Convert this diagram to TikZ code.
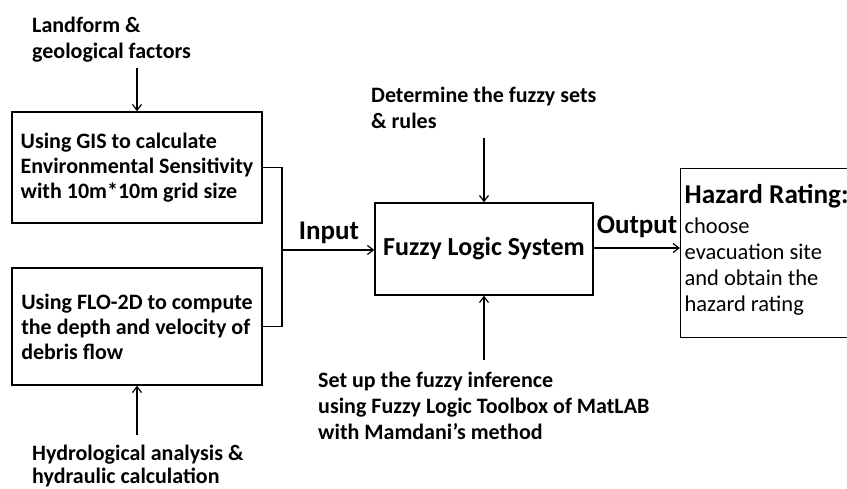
\documentclass[tikz,border=0pt]{standalone}
\usepackage{fontspec}
\setmainfont{Carlito}
\usetikzlibrary{arrows.meta}

\tikzset{
  line/.style={line width=1.3pt, draw=black},
  arr/.style={line, -{Straight Barb[length=6pt,width=9pt,line width=1.2pt]}},
  box/.style={draw=black, line width=1.3pt, rectangle, inner ysep=0pt},
  stepbox/.style={box, font=\bfseries\fontsize{22}{25}\selectfont, align=left,
    inner xsep=0pt, minimum width=250pt},
  lab/.style={font=\bfseries\fontsize{22}{26}\selectfont, align=left, inner sep=0pt, anchor=west},
  biglab/.style={font=\bfseries\fontsize{27}{30}\selectfont, inner sep=0pt},
}

\begin{document}
\begin{tikzpicture}[x=1pt,y=-1pt]
  \useasboundingbox (0,0) rectangle (847,488);
  \clip (0,0) rectangle (847,488);

  % input boxes
  \node[stepbox, minimum height=111pt] (gis) at (137,167.5)
    {Using GIS to calculate\\Environmental Sensitivity\\with 10m*10m grid size};
  \node[stepbox, minimum height=117pt] (flo) at (137,326.5)
    {Using FLO-2D to compute\\the depth and velocity of\\debris flow};

  % central fuzzy box
  \node[box, minimum width=218pt, minimum height=92pt,
        font=\bfseries\fontsize{26}{30}\selectfont] (fuzzy) at (484,249) {Fuzzy Logic System};

  % output box, running off the right edge
  \node[box, anchor=north west, minimum width=190pt, minimum height=169pt,
        text width=182pt, inner xsep=3pt, align=flush left,
        font=\fontsize{22.5}{26}\selectfont] (haz) at (680,168)
    {{\bfseries\fontsize{27.2}{30}\selectfont Hazard Rating:}\\[4pt]
     choose\\evacuation site\\and obtain the\\hazard rating\\[-15pt]\mbox{}};

  % source labels
  \node[lab] (land) at (32,40) {Landform \&\\geological factors};
  \node[lab] (rules) at (371,107.5) {Determine the fuzzy sets\\\& rules};
  \node[lab] (infer) at (318,406)
    {Set up the fuzzy inference\\using Fuzzy Logic Toolbox of MatLAB\\with Mamdani’s method};
  \node[lab, font=\bfseries\fontsize{22}{23}\selectfont] (hydro) at (32,466)
    {Hydrological analysis \&\\hydraulic calculation};

  % feeding arrows
  \draw[arr] (gis.north |- 0,68) -- (gis.north);
  \draw[arr] (flo.south |- 0,435) -- (flo.south);
  \draw[arr] (fuzzy.north |- 0,138) -- (fuzzy.north);
  \draw[arr] (fuzzy.south |- 0,360) -- (fuzzy.south);

  % bracket joining both inputs
  \coordinate (j) at (282,250);
  \draw[line] (gis.east) -| (j) |- (flo.east);
  \draw[arr] (j) -- (fuzzy.west |- j);
  \node[biglab, anchor=south] (inlab) at (329,244) {Input};

  % output arrow
  \draw[arr] (fuzzy.east |- 0,248) -- (haz.west |- 0,248);
  \node[biglab, anchor=south] (outlab) at (637,238) {Output};
\end{tikzpicture}
\end{document}
